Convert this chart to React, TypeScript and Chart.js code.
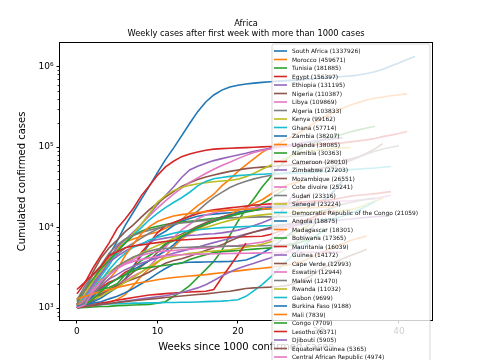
import { useEffect, useRef } from "react";
import { Chart, registerables } from "chart.js";

Chart.register(...registerables);

// ---- data (cumulative confirmed cases per week since first week > 1000) ----
const southAfrica = [1280, 1655, 2173, 3158, 4546, 6783, 10652, 15515, 22583, 32683, 48285, 70038, 97302, 138134, 196750, 276242, 364328, 445433, 511485, 559859, 587345, 609773, 625056, 638517, 650749, 661936, 671669, 681289, 694537, 706304, 719714, 726823, 740254, 755724, 769759, 787702, 821889, 866127, 930711, 1021451, 1113349, 1231597, 1337926];
const morocco = [1120, 1660, 2280, 3200, 4320, 5550, 6600, 7200, 7800, 8300, 8800, 9800, 10900, 12600, 15500, 18800, 22000, 26000, 33000, 40000, 50000, 60000, 72000, 86000, 98000, 110000, 125000, 140000, 160000, 185000, 215000, 245000, 275000, 305000, 335000, 360000, 385000, 405000, 420000, 435000, 448000, 459671];
const tunisia = [1000, 1020, 1035, 1045, 1050, 1070, 1080, 1090, 1100, 1110, 1150, 1200, 1400, 1600, 1900, 2400, 3000, 3800, 5200, 8000, 12000, 17000, 23000, 32000, 42000, 55000, 70000, 85000, 98000, 108000, 118000, 128000, 137000, 145000, 155000, 164000, 173000, 181885];
const egypt = [1500, 2065, 3144, 4534, 6465, 9746, 12764, 17265, 24985, 33188, 44598, 56809, 66754, 76222, 82070, 87172, 91583, 94483, 95834, 96914, 97825, 98727, 99863, 100856, 101772, 102840, 103902, 104787, 105547, 107209, 108329, 109654, 111284, 113000, 116303, 119685, 123153, 127972, 135000, 141000, 148000, 156397];
const ethiopia = [1100, 1500, 2000, 2900, 4000, 5800, 7100, 8800, 11000, 14500, 19300, 25000, 32000, 42000, 52000, 58000, 63000, 68000, 72000, 76000, 80000, 84000, 89000, 93000, 97000, 101000, 105000, 109000, 113000, 117000, 121000, 124000, 127500, 131195];
const nigeria = [1100, 1700, 2800, 4200, 5600, 7000, 8900, 10800, 13500, 16700, 20200, 24000, 28000, 32500, 36000, 39500, 42500, 45000, 47500, 50000, 52000, 54000, 55500, 56500, 57500, 58500, 59500, 60500, 61500, 62500, 63500, 64800, 66000, 68000, 71000, 76000, 84000, 95000, 110387];
const libya = [1050, 1400, 1800, 2600, 3800, 5000, 6500, 8500, 11000, 14000, 17500, 21500, 26000, 31000, 36500, 41500, 47000, 53000, 59000, 65000, 72000, 79000, 86000, 91000, 95000, 99000, 102000, 106000, 109869];
const algeria = [1250, 1900, 2600, 3100, 4000, 4650, 5550, 6400, 7400, 8500, 9600, 10500, 11400, 12500, 13900, 16000, 19700, 23700, 27400, 31500, 34700, 37700, 40300, 42600, 44500, 46300, 48000, 49600, 51200, 52500, 54000, 56000, 58500, 62500, 68000, 75000, 82000, 89000, 95000, 99600, 103833];
const kenya = [1100, 1500, 2200, 2900, 3900, 5200, 6700, 8500, 11000, 15000, 20600, 25000, 28800, 31500, 33500, 35100, 36200, 37100, 37900, 38500, 40000, 43000, 47500, 53000, 59000, 66000, 73000, 80000, 85000, 89000, 92500, 95000, 96600, 98000, 99162];
const ghana = [1050, 1300, 1700, 2500, 3400, 5000, 6500, 8000, 10000, 12500, 15000, 17700, 20500, 23500, 27500, 33000, 37500, 40500, 42000, 43300, 44300, 45000, 45600, 46100, 46600, 46900, 47200, 47500, 47800, 48300, 49000, 50000, 51000, 51700, 52500, 53300, 54200, 55000, 56300, 57714];
const zambia = [1060, 1090, 1200, 1330, 1560, 1800, 2300, 3300, 4500, 6300, 7900, 9000, 10600, 12000, 13000, 13800, 14400, 14700, 15000, 15300, 15600, 16000, 16400, 16800, 17200, 17600, 17900, 18300, 18800, 19500, 20700, 23000, 29000, 38207];
const uganda = [1000, 1050, 1070, 1130, 1180, 1280, 1470, 1900, 2500, 3100, 3700, 4500, 5700, 7200, 8500, 9600, 10800, 12000, 13400, 14600, 16400, 17800, 20000, 22200, 25800, 29600, 33500, 35800, 38085];
const namibia = [1200, 1700, 2300, 3100, 3900, 5100, 6400, 8000, 9000, 9800, 10400, 10900, 11300, 11700, 12000, 12300, 12700, 13000, 13400, 14000, 14700, 15800, 17500, 19800, 22500, 26500, 30363];
const cameroon = [1000, 1100, 1500, 1800, 2100, 2300, 2800, 3100, 4900, 6400, 8600, 10600, 11600, 12600, 13700, 14900, 15900, 16700, 17100, 17600, 18000, 18500, 19000, 19400, 19700, 20000, 20300, 20600, 20900, 21200, 21500, 21800, 22500, 23500, 24600, 25200, 25800, 26400, 27200, 28010];
const zimbabwe = [1000, 1400, 1900, 2700, 3700, 4400, 5100, 5800, 6300, 6700, 7100, 7400, 7700, 7800, 8000, 8100, 8300, 8400, 8600, 8900, 9300, 9900, 10600, 11500, 12600, 14000, 19000, 27203];
const mozambique = [1000, 1100, 1250, 1450, 1700, 1900, 2300, 2800, 3300, 3900, 4900, 6100, 7400, 8300, 9300, 10400, 11500, 12600, 13500, 14300, 15100, 15900, 16500, 17000, 17600, 18300, 18900, 20500, 23500, 26551];
const coteDivoire = [1000, 1150, 1350, 1500, 1650, 1900, 2200, 2500, 2800, 3300, 4200, 5700, 7500, 9400, 11000, 12900, 14300, 15300, 16000, 16500, 16900, 17300, 17700, 18100, 18400, 18800, 19200, 19500, 19800, 20100, 20400, 20700, 21000, 21300, 21600, 22000, 22400, 22900, 23900, 25241];
const sudan = [1100, 1700, 2600, 3400, 4800, 6100, 7200, 8000, 8700, 9300, 9900, 10500, 11000, 11400, 11700, 12000, 12300, 12600, 12900, 13200, 13300, 13400, 13500, 13600, 13600, 13700, 13700, 13800, 13900, 14500, 15500, 16600, 18000, 19500, 20500, 21600, 22500, 23316];
const senegal = [1000, 1300, 1700, 2300, 2800, 3300, 3700, 4200, 4800, 5400, 6000, 6600, 7300, 8000, 8700, 9400, 10000, 10800, 11600, 12300, 12900, 13600, 14000, 14400, 14700, 14900, 15100, 15300, 15500, 15600, 15700, 15800, 16000, 16300, 16800, 17800, 19500, 21300, 23224];
const drCongo = [1000, 1400, 1700, 2200, 3000, 3900, 4800, 5700, 6200, 7000, 7600, 8000, 8500, 8900, 9100, 9400, 9600, 9800, 10000, 10100, 10200, 10300, 10400, 10500, 10600, 10800, 10900, 11000, 11200, 11500, 12000, 12500, 12800, 13800, 15000, 16500, 18500, 21059];
const angola = [1000, 1150, 1400, 1700, 2000, 2300, 2600, 3000, 3400, 3900, 4500, 5100, 6100, 7600, 8800, 10000, 11000, 12000, 13000, 14000, 15100, 16000, 16600, 17200, 17800, 18300, 18875];
const madagascar = [1050, 1300, 1600, 1900, 2300, 3000, 4500, 6200, 8400, 10300, 11900, 13000, 13900, 14500, 15000, 15400, 15800, 16100, 16300, 16500, 16700, 16900, 17000, 17100, 17200, 17300, 17400, 17500, 17600, 17700, 17800, 18000, 18301];
const botswana = [1000, 1300, 1600, 1700, 1800, 2000, 2600, 3200, 3900, 4500, 5200, 6300, 6800, 7800, 8800, 10000, 11000, 12000, 12900, 13700, 14800, 15500, 16300, 17365];
const mauritania = [1700, 2100, 2600, 3300, 4500, 5000, 5600, 5900, 6100, 6300, 6500, 6700, 6900, 7000, 7100, 7200, 7300, 7400, 7500, 7600, 7650, 7700, 7750, 7800, 8200, 8900, 9500, 10500, 11900, 13000, 14400, 15200, 16039];
const guinea = [1000, 1200, 1500, 1900, 2300, 2600, 3000, 3300, 3600, 3900, 4200, 4500, 4800, 5100, 5400, 5700, 6100, 6500, 6900, 7300, 7800, 8300, 8800, 9300, 9700, 10000, 10300, 10600, 10900, 11300, 11600, 11900, 12200, 12500, 12800, 13100, 13400, 13700, 13900, 14172];
const capeVerde = [1000, 1100, 1300, 1500, 1700, 1900, 2100, 2300, 2500, 2800, 3200, 3600, 3900, 4100, 4400, 4800, 5200, 5600, 6100, 6800, 7500, 8200, 8800, 9400, 10000, 10500, 10900, 11300, 11800, 12400, 12993];
const eswatini = [1000, 1300, 1700, 2100, 2600, 3100, 3600, 4000, 4500, 4800, 5000, 5100, 5200, 5300, 5400, 5500, 5600, 5700, 5800, 5900, 6000, 6200, 6400, 6600, 7000, 8000, 9400, 11200, 12944];
const malawi = [1000, 1200, 1500, 2000, 2600, 3300, 3800, 4300, 4700, 5100, 5400, 5500, 5600, 5650, 5700, 5750, 5800, 5820, 5850, 5870, 5890, 5900, 5920, 5950, 6000, 6050, 6150, 6400, 7500, 9500, 12470];
const rwanda = [1000, 1100, 1300, 1400, 1600, 1800, 2100, 2400, 2800, 3300, 3800, 4200, 4400, 4600, 4800, 4900, 5000, 5100, 5200, 5300, 5500, 5700, 5900, 6200, 6600, 7100, 7700, 8400, 9600, 11032];
const gabon = [1050, 1080, 1100, 1110, 1120, 1130, 1140, 1150, 1150, 1160, 1160, 1170, 1170, 1180, 1180, 1190, 1200, 1210, 1220, 1240, 1270, 1400, 1650, 1950, 2400, 3000, 3800, 4700, 5800, 7000, 8300, 9699];
const burkinaFaso = [1050, 1100, 1150, 1200, 1300, 1400, 1550, 1750, 2000, 2300, 2700, 3100, 3500, 3650, 3700, 3720, 3740, 3760, 3780, 3800, 3850, 3950, 4300, 4800, 5500, 6500, 7800, 9188];
const mali = [1300, 1400, 1500, 1600, 1700, 1800, 1900, 2000, 2080, 2150, 2250, 2330, 2400, 2450, 2500, 2550, 2600, 2680, 2750, 2820, 2900, 2980, 3050, 3120, 3200, 3300, 3400, 3550, 3800, 4200, 4700, 5200, 5700, 6300, 6900, 7400, 7839];
const congo = [1000, 1100, 1300, 1600, 2000, 2300, 2600, 2900, 3100, 3200, 3300, 3400, 3500, 3600, 4000, 4300, 4600, 4900, 5000, 5100, 5200, 5300, 5400, 5500, 5600, 5800, 6000, 6200, 6700, 7100, 7709];
const lesotho = [1000, 1050, 1100, 1150, 1200, 1250, 1300, 1350, 1400, 1450, 1480, 1510, 1540, 1560, 1580, 1600, 1620, 1700, 2400, 3300, 4600, 6371];
const djibouti = [1020, 1050, 1080, 1110, 1140, 1180, 1220, 1260, 1300, 1340, 1380, 1420, 1480, 1560, 1660, 1780, 1950, 2200, 2500, 2800, 3100, 3350, 3600, 3900, 4200, 4600, 5000, 5450, 5905];
const equatorialGuinea = [1000, 1040, 1080, 1110, 1140, 1170, 1200, 1230, 1260, 1290, 1320, 1350, 1380, 1410, 1440, 1470, 1500, 1540, 1580, 1620, 1680, 1750, 1780, 1800, 1820, 1850, 1900, 2000, 2200, 2500, 2900, 3300, 3700, 4100, 4500, 4900, 5365];
const centralAfricanRepublic = [1000, 1100, 1600, 2200, 2600, 3100, 3500, 3800, 4000, 4200, 4350, 4450, 4550, 4600, 4650, 4680, 4700, 4720, 4740, 4760, 4780, 4800, 4820, 4840, 4860, 4880, 4900, 4910, 4920, 4930, 4940, 4950, 4960, 4974];

const countries = [
  "South Africa", "Morocco", "Tunisia", "Egypt", "Ethiopia", "Nigeria", "Libya", "Algeria", "Kenya", "Ghana",
  "Zambia", "Uganda", "Namibia", "Cameroon", "Zimbabwe", "Mozambique", "Cote divoire", "Sudan", "Senegal",
  "Democratic Republic of the Congo", "Angola", "Madagascar", "Botswana", "Mauritania", "Guinea", "Cape Verde",
  "Eswatini", "Malawi", "Rwanda", "Gabon", "Burkina Faso", "Mali", "Congo", "Lesotho", "Djibouti",
  "Equatorial Guinea", "Central African Republic",
];
const seriesValues = [
  southAfrica, morocco, tunisia, egypt, ethiopia, nigeria, libya, algeria, kenya, ghana,
  zambia, uganda, namibia, cameroon, zimbabwe, mozambique, coteDivoire, sudan, senegal,
  drCongo, angola, madagascar, botswana, mauritania, guinea, capeVerde,
  eswatini, malawi, rwanda, gabon, burkinaFaso, mali, congo, lesotho, djibouti,
  equatorialGuinea, centralAfricanRepublic,
];

const palette = ["#1f77b4", "#ff7f0e", "#2ca02c", "#d62728", "#9467bd", "#8c564b", "#e377c2", "#7f7f7f", "#bcbd22", "#17becf"];
const xTicks = [0, 10, 20, 30, 40];
const yTicks = [1e3, 1e4, 1e5, 1e6];
const supers: Record<string, string> = { "3": "³", "4": "⁴", "5": "⁵", "6": "⁶" };

const titleLine1 = "Africa";
const titleLine2 = "Weekly cases after first week with more than 1000 cases";
const xTitle = "Weeks since 1000 confirmed cases";
const yTitle = "Cumulated confirmed cases";

const FONT = "'DejaVu Sans', sans-serif";

const decor = {
  id: "decor",
  afterDraw(chart: any) {
    const ctx = chart.ctx;
    const { left, right, top, bottom } = chart.chartArea;
    const ys = chart.scales.y;
    ctx.save();
    // frame
    ctx.strokeStyle = "#000";
    ctx.lineWidth = 1;
    ctx.strokeRect(Math.round(left) - 0.5, Math.round(top) - 0.5, Math.round(right - left) + 1, Math.round(bottom - top) + 1);
    // minor log ticks
    ctx.lineWidth = 0.8;
    for (let e = 2; e <= 6; e++) {
      for (let k = 2; k <= 9; k++) {
        const v = k * Math.pow(10, e);
        if (v < ys.min || v > ys.max) continue;
        const py = Math.round(ys.getPixelForValue(v)) + 0.5;
        ctx.beginPath();
        ctx.moveTo(left - 0.5, py);
        ctx.lineTo(left - 2.5, py);
        ctx.stroke();
      }
    }
    // titles
    ctx.fillStyle = "#000";
    ctx.textAlign = "center";
    ctx.textBaseline = "middle";
    const cx = (left + right) / 2;
    ctx.font = `8.3px ${FONT}`;
    ctx.fillText(titleLine1, cx, 24);
    ctx.fillText(titleLine2, cx, 34);
    ctx.font = `10px ${FONT}`;
    ctx.fillText(xTitle, cx, 347);
    ctx.save();
    ctx.translate(22, (top + bottom) / 2);
    ctx.rotate(-Math.PI / 2);
    ctx.fillText(yTitle, 0, 0);
    ctx.restore();

    // legend
    const lx = 272, ly = 44, lw = 158, lh = 340;
    ctx.beginPath();
    const r = 2;
    ctx.moveTo(lx + r, ly);
    ctx.lineTo(lx + lw - r, ly);
    ctx.quadraticCurveTo(lx + lw, ly, lx + lw, ly + r);
    ctx.lineTo(lx + lw, ly + lh);
    ctx.lineTo(lx, ly + lh);
    ctx.lineTo(lx, ly + r);
    ctx.quadraticCurveTo(lx, ly, lx + r, ly);
    ctx.closePath();
    ctx.fillStyle = "rgba(255,255,255,0.8)";
    ctx.fill();
    ctx.strokeStyle = "rgba(204,204,204,0.8)";
    ctx.lineWidth = 1;
    ctx.stroke();
    ctx.font = `5.9px ${FONT}`;
    ctx.textAlign = "left";
    ctx.textBaseline = "middle";
    countries.forEach((name, i) => {
      const y = 51 + i * 8.5;
      ctx.strokeStyle = palette[i % palette.length];
      ctx.lineWidth = 1.6;
      ctx.beginPath();
      ctx.moveTo(274, y);
      ctx.lineTo(287, y);
      ctx.stroke();
      const vals = seriesValues[i];
      ctx.fillStyle = "#111";
      ctx.fillText(`${name} (${vals[vals.length - 1]})`, 292, y + 0.5);
    });
    ctx.restore();
  },
};

export default function App() {
  const ref = useRef<HTMLCanvasElement | null>(null);
  useEffect(() => {
    document.body.style.margin = "0";
    const canvas = ref.current!;
    const n = countries.length;
    const chart = new Chart(canvas, {
      type: "line",
      data: {
        datasets: countries.map((name, i) => ({
          label: name,
          data: seriesValues[i].map((v, w) => ({ x: w, y: v })),
          borderColor: palette[i % palette.length],
          backgroundColor: palette[i % palette.length],
          borderWidth: 1.6,
          pointRadius: 0,
          fill: false,
          tension: 0,
          order: n - i,
        })),
      },
      options: {
        animation: false,
        responsive: false,
        devicePixelRatio: 1,
        layout: { padding: { top: 43, right: 48, left: 0, bottom: 0 } },
        plugins: { legend: { display: false }, tooltip: { enabled: false }, title: { display: false } },
        scales: {
          x: {
            type: "linear",
            min: -2.1,
            max: 44.1,
            afterBuildTicks: (s: any) => { s.ticks = xTicks.map((v) => ({ value: v })); },
            afterFit: (s: any) => { s.height = 40; },
            grid: { drawOnChartArea: false, drawTicks: true, tickLength: 3.5, color: "#000" },
            border: { display: false },
            ticks: { color: "#000", font: { family: FONT, size: 9 }, padding: 3, maxRotation: 0, callback: (v: any) => String(v) },
          },
          y: {
            type: "logarithmic",
            min: 710,
            max: 1.97e6,
            afterBuildTicks: (s: any) => { s.ticks = yTicks.map((v) => ({ value: v })); },
            afterFit: (s: any) => { s.width = 60; },
            grid: { drawOnChartArea: false, drawTicks: true, tickLength: 3.5, color: "#000" },
            border: { display: false },
            ticks: {
              color: "#000",
              font: { family: FONT, size: 9 },
              padding: 3,
              callback: (v: any) => {
                const e = Math.round(Math.log10(Number(v)));
                return "10" + (supers[String(e)] || "");
              },
            },
          },
        },
      },
      plugins: [decor],
    });
    return () => chart.destroy();
  }, []);
  return <canvas ref={ref} width={480} height={360} style={{ display: "block" }} />;
}
